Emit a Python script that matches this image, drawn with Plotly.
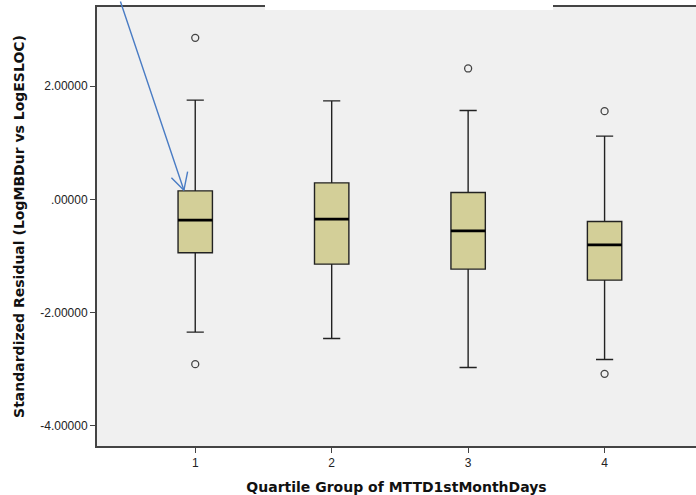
import plotly.graph_objects as go

groups = [1, 2, 3, 4]
q1 = [-0.943, -1.143, -1.231, -1.426]
median = [-0.366, -0.348, -0.555, -0.802]
q3 = [0.152, 0.293, 0.124, -0.389]
lower_whisker = [-2.345, -2.456, -2.968, -2.827]
upper_whisker = [1.754, 1.742, 1.572, 1.118]
outlier_x = [1, 1, 3, 4, 4]
outlier_y = [2.855, -2.91, 2.314, 1.56, -3.081]
y_ticks = [2, 0, -2, -4]
y_tick_labels = ["2.00000", ".00000", "-2.00000", "-4.00000"]
x_tick_labels = ["1", "2", "3", "4"]

BOX_W = 0.252
FONT = "Liberation Sans, Arial, sans-serif"
TITLE_FONT = "DejaVu Sans, Verdana, sans-serif"

fig = go.Figure()
fig.add_trace(go.Box(
    x=groups, q1=q1, median=median, q3=q3,
    lowerfence=lower_whisker, upperfence=upper_whisker,
    width=BOX_W, whiskerwidth=0.5,
    fillcolor="#D3CF98", line=dict(color="#222222", width=1.4),
    boxpoints=False, showlegend=False, hoverinfo="skip",
))
# thicker median bars
mx, my = [], []
for g, m in zip(groups, median):
    mx += [g - BOX_W / 2, g + BOX_W / 2, None]
    my += [m, m, None]
fig.add_trace(go.Scatter(x=mx, y=my, mode="lines",
                         line=dict(color="#000000", width=2.6),
                         showlegend=False, hoverinfo="skip"))
fig.add_trace(go.Scatter(x=outlier_x, y=outlier_y, mode="markers",
                         marker=dict(symbol="circle-open", size=7,
                                     color="#444444", line=dict(width=1.3)),
                         showlegend=False, hoverinfo="skip"))

# blue arrow
ARROW_X, ARROW_Y = 0.917, 0.164
fig.add_annotation(x=ARROW_X, y=ARROW_Y, xref="x", yref="y", ax=-64, ay=-195,
                   axref="pixel", ayref="pixel", text="", showarrow=True,
                   arrowhead=0, arrowwidth=1.4, arrowcolor="#4A7CC4")
for ax_, ay_ in [(-14, -14), (4, -20)]:
    fig.add_annotation(x=ARROW_X, y=ARROW_Y, xref="x", yref="y", ax=ax_, ay=ay_,
                       text="", showarrow=True, arrowhead=0, arrowwidth=1.4,
                       arrowcolor="#4A7CC4")

# white patch at top (as in reference image)
fig.add_shape(type="rect", xref="paper", yref="paper", x0=(265 - 97) / 599,
              x1=(553 - 97) / 599, y0=1 - 3 / 439, y1=1.05,
              fillcolor="white", line=dict(width=0), layer="above")

fig.update_layout(
    width=696, height=495,
    margin=dict(l=97, r=0, t=7, b=49),
    paper_bgcolor="white", plot_bgcolor="#F0F0F0",
    font=dict(family=FONT, size=12, color="#222222"),
    xaxis=dict(range=[0.28, 4.67], tickvals=groups, ticktext=x_tick_labels,
               ticks="outside", ticklen=5, tickcolor="#444444",
               showline=True, linecolor="#444444", linewidth=2, mirror=True,
               showgrid=False, zeroline=False,
               title=dict(text="<b>Quartile Group of MTTD1stMonthDays</b>",
                          font=dict(family=TITLE_FONT, size=14, color="#111111"),
                          standoff=13)),
    yaxis=dict(range=[-4.356, 3.40], tickvals=y_ticks, ticktext=y_tick_labels,
               ticks="outside", ticklen=5, tickcolor="#444444",
               showline=True, linecolor="#444444", linewidth=2,
               showgrid=False, zeroline=False,
               title=dict(text="<b>Standardized Residual (LogMBDur vs LogESLOC)</b>",
                          font=dict(family=TITLE_FONT, size=14, color="#111111"),
                          standoff=12)),
)
fig.write_html("out.html", config={"displayModeBar": False},
               post_script="document.body.style.margin='0';document.body.style.overflow='hidden';")
